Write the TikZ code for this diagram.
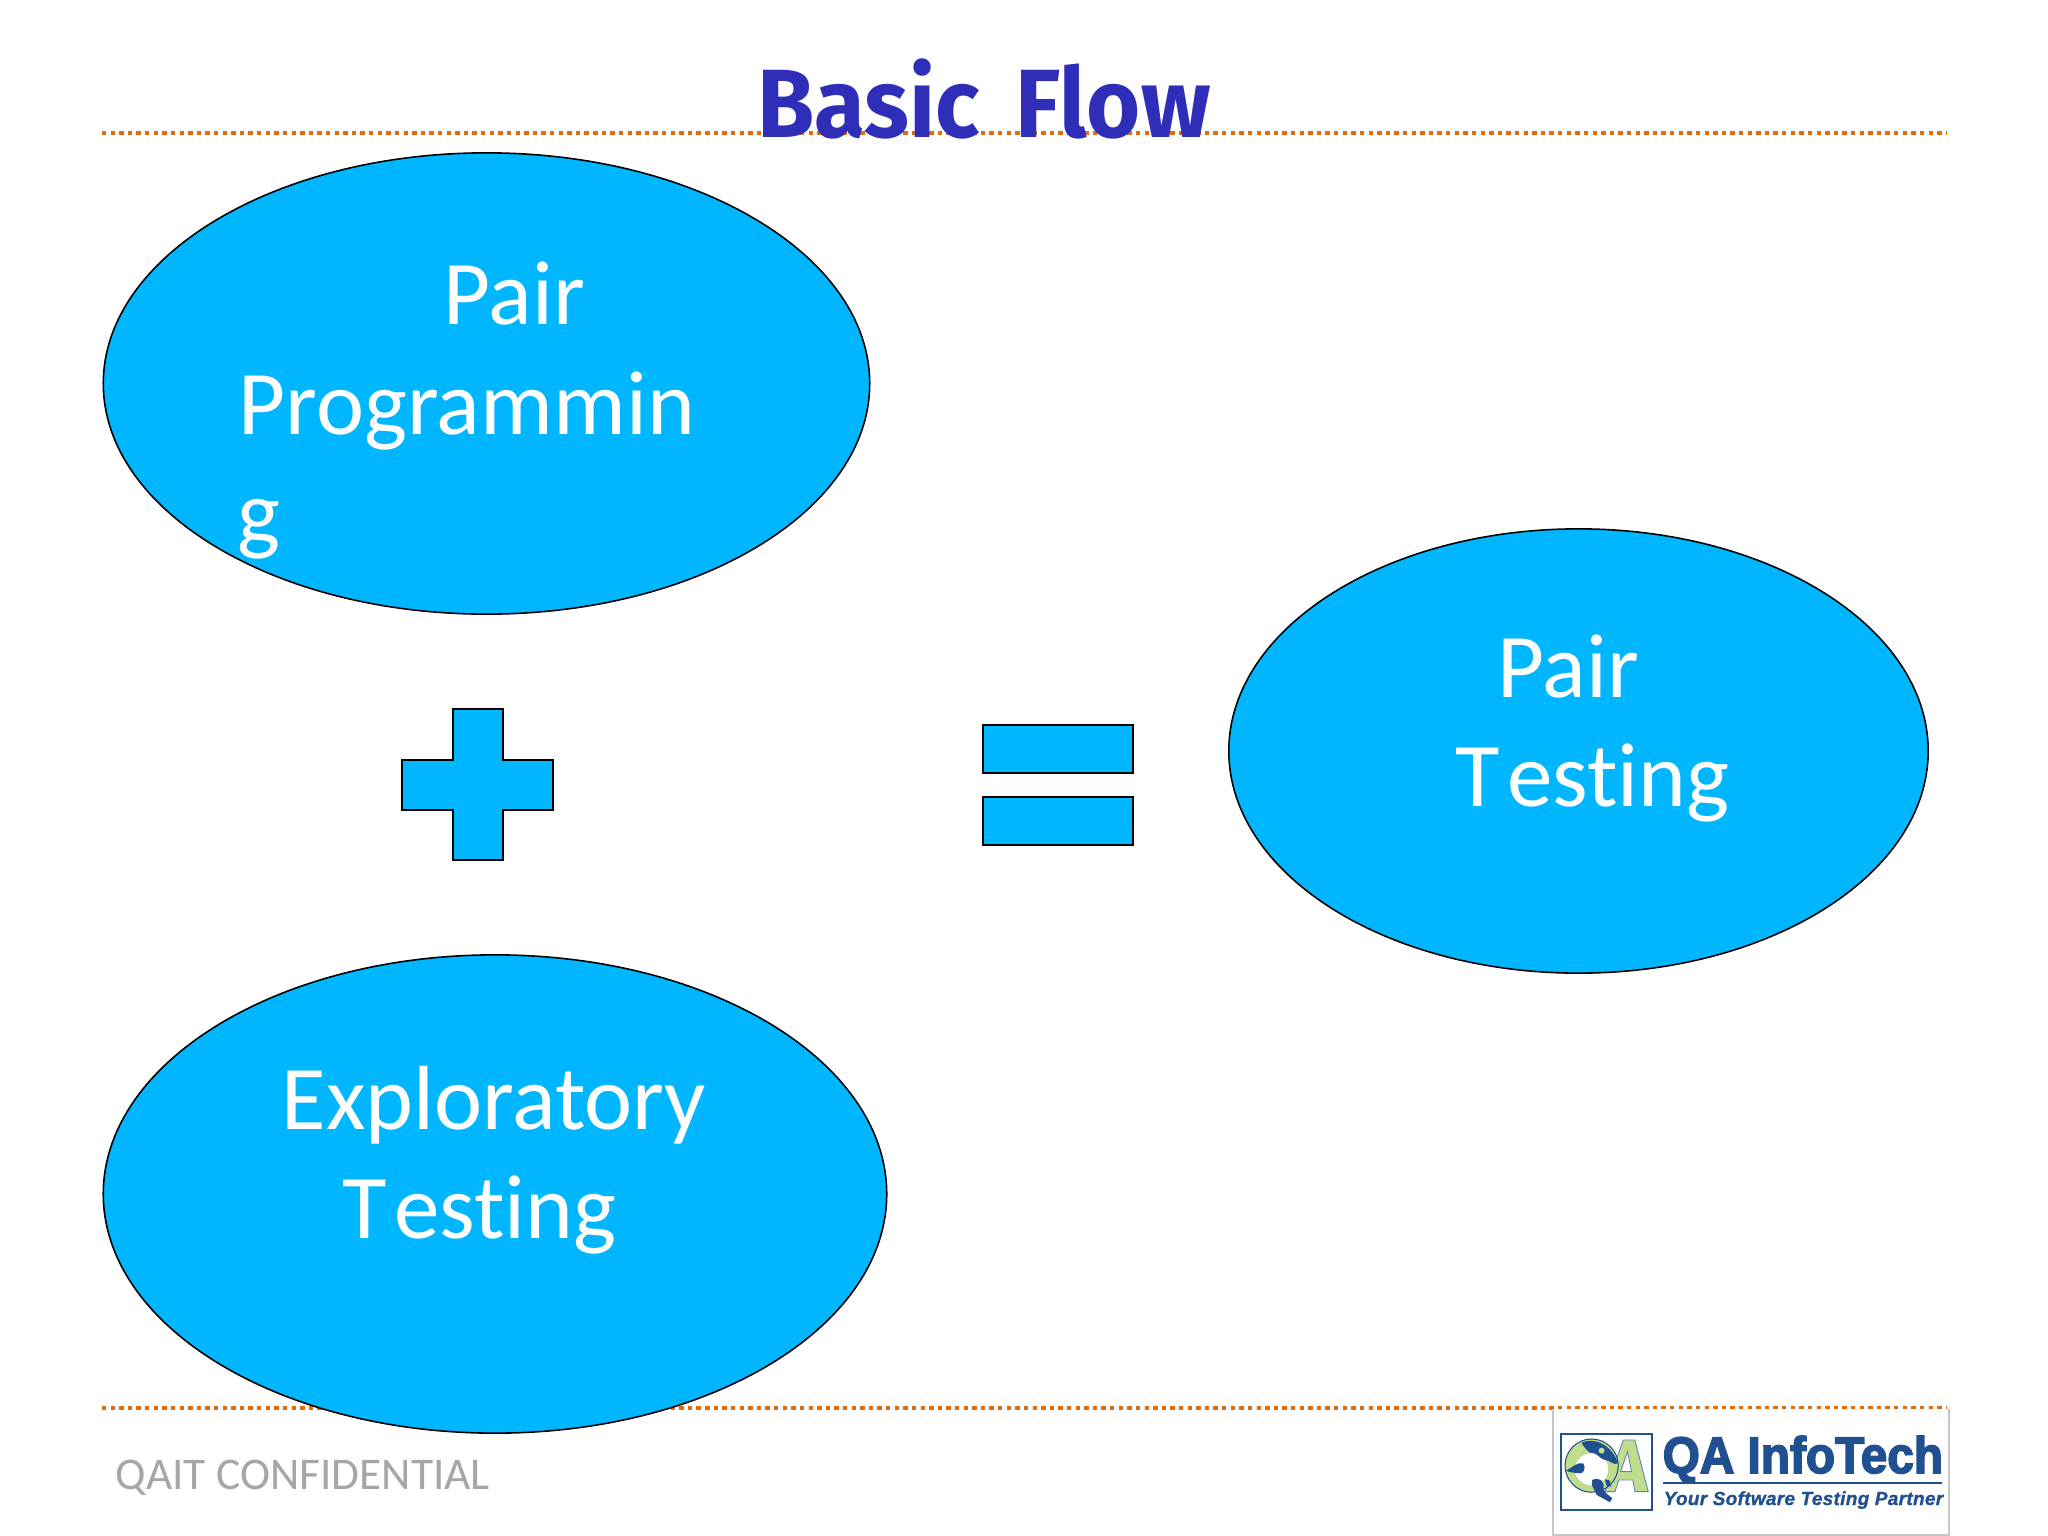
\documentclass[tikz,border=0pt]{standalone}
\usepackage{fontspec}
\setmainfont{Carlito}[Ligatures=CommonOff]
\newfontfamily\titlefont{Fira Sans}[UprightFont=* Bold, FakeStretch=0.955]
\newfontfamily\logofont{Liberation Sans Bold}[FakeBold=3, FakeStretch=0.93]
\newfontfamily\logosmall{Liberation Sans Bold Italic}[FakeBold=1, LetterSpace=1.6]
\usetikzlibrary{shapes.geometric}
\definecolor{blobblue}{HTML}{00B6FF}
\definecolor{rulecol}{HTML}{E36C0A}
\definecolor{titleblue}{HTML}{2E2EB8}
\definecolor{logoblue}{HTML}{20508F}
\definecolor{logogreen}{HTML}{BFDD8C}
\tikzset{
  blob/.style={ellipse,draw=black,line width=0.45pt,fill=blobblue,inner sep=0pt},
  opshape/.style={draw=black,line width=0.55pt,fill=blobblue,line join=miter},
  blobtext/.style={anchor=base west,inner sep=0pt,text=white,font=\fontsize{25.9}{30}\selectfont},
  dotrule/.style={draw=rulecol,line width=1.2pt,dash pattern=on 1.25pt off 1.2pt},
}
\begin{document}
\begin{tikzpicture}[x=0.01cm,y=-0.01cm]
\useasboundingbox (0,0) rectangle (2048,1536);
\fill[white] (0,0) rectangle (2048,1536);
\coordinate (r1a) at (102,133); \coordinate (r1b) at (1947,133);
\coordinate (r2a) at (102,1408); \coordinate (r2b) at (1947,1408);
\draw[dotrule] (r1a) -- (r1b);
\draw[dotrule] (r2a) -- (r2b);
\node[anchor=base west,inner sep=0pt,text=titleblue,font=\titlefont\fontsize{27.6}{30}\selectfont] (title) at (757,137) {Basic\hspace{0.14em} Flow};
% ellipses
\node[blob,minimum width=7.66cm,minimum height=4.61cm] (pp) at (486.5,383.5) {};
\node[blob,minimum width=6.99cm,minimum height=4.44cm] (pt) at (1578.5,751) {};
\node[blob,minimum width=7.83cm,minimum height=4.78cm] (et) at (495,1194) {};
% ellipse texts
\node[blobtext] (pp1) at (443,324) {Pair};
\node[blobtext] (pp2) at (238,434) {Programmin};
\node[blobtext] (pp3) at (237,543) {g};
\node[blobtext] (pt1) at (1497,697) {Pair};
\node[blobtext] (pt2) at (1455,806) {T\kern2pt esting};
\node[blobtext] (et1) at (281,1129) {Exploratory};
\node[blobtext] (et2) at (342,1238) {T\kern2pt esting};
% operators
\draw[opshape] (453,709) -- (503,709) -- (503,760) -- (553,760) -- (553,810) -- (503,810) -- (503,860) -- (453,860) -- (453,810) -- (402,810) -- (402,760) -- (453,760) -- cycle;
\draw[opshape] (983,725) rectangle (1133,773);
\draw[opshape] (983,797) rectangle (1133,845);
% footer
\node[anchor=base west,inner sep=0pt,text=black!35,font=\fontsize{12.9}{15}\selectfont] (conf) at (115,1489) {QAIT CONFIDENTIAL};
% logo
\draw[black!22,line width=0.3pt,fill=white] (1553,1409) -- (1553,1535) -- (1949,1535) -- (1949,1409);
\draw[logoblue,line width=0.65pt,fill=white] (1561,1434) rectangle (1652,1510);
\begin{scope}[shift={(1555,1430)},x=0.003333cm,y=-0.003333cm]
\fill[logogreen,draw=logoblue!70,line width=0.25pt,even odd rule] (150,185) -- (205,30) -- (240,30) -- (280,185) -- (240,185) -- (234,150) -- (192,150) -- (180,185) -- cycle (197,125) -- (230,125) -- (218,65) -- cycle;
\fill[logogreen,draw=logoblue,line width=0.3pt] (110,107) circle (80);
\fill[white] (110,118) ellipse (50 and 48);
\fill[logoblue] (80,38) .. controls (120,20) and (170,45) .. (190,100) .. controls (175,108) and (165,90) .. (150,90) .. controls (135,88) and (125,65) .. (105,68) .. controls (95,60) and (85,50) .. (80,38) -- cycle;
\fill[logogreen] (140,62) circle (9);
\fill[logoblue] (33,122) .. controls (50,115) and (65,95) .. (85,100) .. controls (95,115) and (85,135) .. (70,130) .. controls (55,128) and (45,128) .. (33,122) -- cycle;
\fill[logoblue] (112,150) .. controls (135,140) and (150,155) .. (145,175) .. controls (150,190) and (160,195) .. (172,205) -- (165,217) -- (125,195) .. controls (120,180) and (105,165) .. (112,150) -- cycle;
\fill[logoblue] (150,148) -- (165,152) -- (168,170) -- (155,168) -- cycle;
\end{scope}
\node[anchor=base west,inner sep=0pt,text=logoblue,font=\logofont\fontsize{14.6}{16}\selectfont] (lg1) at (1662,1473) {QA InfoTech};
\coordinate (lga) at (1663,1483); \coordinate (lgb) at (1942,1483);
\draw[logoblue,line width=0.6pt] (lga) -- (lgb);
\node[anchor=base west,inner sep=0pt,text=logoblue,font=\logosmall\fontsize{5.4}{7}\selectfont] (lg2) at (1663,1505) {Your Software Testing Partner};
\end{tikzpicture}
\end{document}
